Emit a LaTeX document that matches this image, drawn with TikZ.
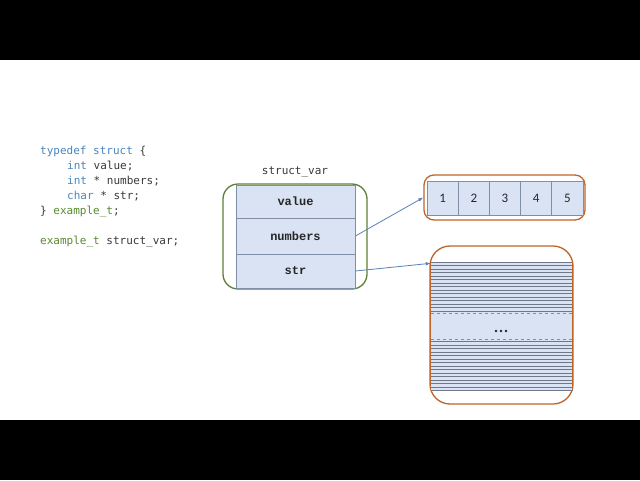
\documentclass[tikz,border=0pt]{standalone}
\usepackage{fontspec}
\newfontfamily\codefont{DejaVu Sans Mono}
\newfontfamily\cellfont{Liberation Mono}
\newfontfamily\numfont{Carlito}
\usetikzlibrary{arrows.meta}
\definecolor{kwblue}{HTML}{4A86BE}
\definecolor{tygreen}{HTML}{5A8A32}
\definecolor{codegray}{HTML}{3A3A3A}
\definecolor{boxgreen}{HTML}{5E8038}
\definecolor{boxorange}{HTML}{C0642A}
\definecolor{cellfill}{HTML}{DAE3F3}
\definecolor{cellline}{HTML}{7F8FA8}
\definecolor{stripe}{HTML}{6E7888}
\definecolor{arrowblue}{HTML}{5A80B8}
\tikzset{
  codeline/.style={anchor=base west, inner sep=0pt, font=\codefont\fontsize{11}{13}\selectfont, text=codegray},
  fieldcell/.style={draw=cellline, fill=cellfill, line width=0.8pt, minimum width=119pt, inner sep=0pt, font=\cellfont\bfseries\fontsize{12}{14}\selectfont, text=black!85},
  numcell/.style={draw=cellline, fill=cellfill, line width=0.8pt, minimum width=31.2pt, minimum height=34pt, inner sep=0pt, font=\numfont\fontsize{13}{14}\selectfont, text=black!85},
  greenbox/.style={draw=boxgreen, line width=1.3pt, rounded corners=15pt, inner sep=0pt},
  orangebox/.style={draw=boxorange, line width=1.3pt, inner sep=0pt},
  stripeline/.style={stripe, line width=0.9pt},
  ptr/.style={draw=arrowblue, line width=0.8pt, -{Latex[length=5pt,width=3.5pt]}}
}
\begin{document}
\begin{tikzpicture}[x=1pt,y=-1pt]
\useasboundingbox (0,0) rectangle (640,480);
\fill[white] (0,0) rectangle (640,480);
\fill[black] (0,0) rectangle (640,60);
\fill[black] (0,420) rectangle (640,480);

% code
\node[codeline] (c1) at (40,154) {\textcolor{kwblue}{typedef struct} \{};
\node[codeline] (c2) at (67,169) {\textcolor{kwblue}{int} value;};
\node[codeline] (c3) at (67,184) {\textcolor{kwblue}{int} * numbers;};
\node[codeline] (c4) at (67,199) {\textcolor{kwblue}{char} * str;};
\node[codeline] (c5) at (40,214) {\} \textcolor{tygreen}{example\_t};};
\node[codeline] (c6) at (40,244) {\textcolor{tygreen}{example\_t} struct\_var;};

% struct
\node[codeline, anchor=center] (lbl) at (295,172) {struct\_var};
\node[greenbox, minimum width=144pt, minimum height=105pt] (sv) at (295,236.5) {};
\node[fieldcell, minimum height=33pt] (value) at (295.5,201.5) {value};
\node[fieldcell, minimum height=36pt] (numbers) at (295.5,236) {numbers};
\node[fieldcell, minimum height=34pt] (str) at (295.5,271) {str};

% array
\node[orangebox, rounded corners=10pt, minimum width=161pt, minimum height=45pt] (arr) at (504.5,197.5) {};
\foreach \i in {1,...,5} {
  \node[numcell] (n\i) at ({427+31.2*(\i-0.5)},198) {\i};
}

% string buffer
\node[orangebox, rounded corners=20pt, minimum width=143pt, minimum height=158pt] (sbox) at (501.5,325) {};
\node[fill=cellfill, inner sep=0pt, minimum width=142pt, minimum height=128pt] (buf) at (502,326) {};
\foreach \k in {0,...,14} {
  \draw[stripeline] (431,{262+3.5*\k}) -- (573,{262+3.5*\k});
  \draw[stripeline] (431,{341.5+3.5*\k}) -- (573,{341.5+3.5*\k});
}
\draw[cellline, line width=0.8pt, dashed] (431,313) -- (573,313);
\draw[cellline, line width=0.8pt, dashed] (431,339) -- (573,339);
\coordinate (dotc) at (501,331);
\foreach \dx in {-5,0,5} {
  \fill[black!85] ([xshift=\dx pt]dotc) circle (1.3pt);
}
\draw[boxorange, line width=1.3pt] (430.6,262) -- (430.6,390);
\draw[boxorange, line width=1.3pt] (572.4,262) -- (572.4,390);

% pointers
\draw[ptr] (numbers.east) -- (arr.west);
\draw[ptr] (str.east) -- ([yshift=-1.5pt]buf.north west);
\end{tikzpicture}
\end{document}
